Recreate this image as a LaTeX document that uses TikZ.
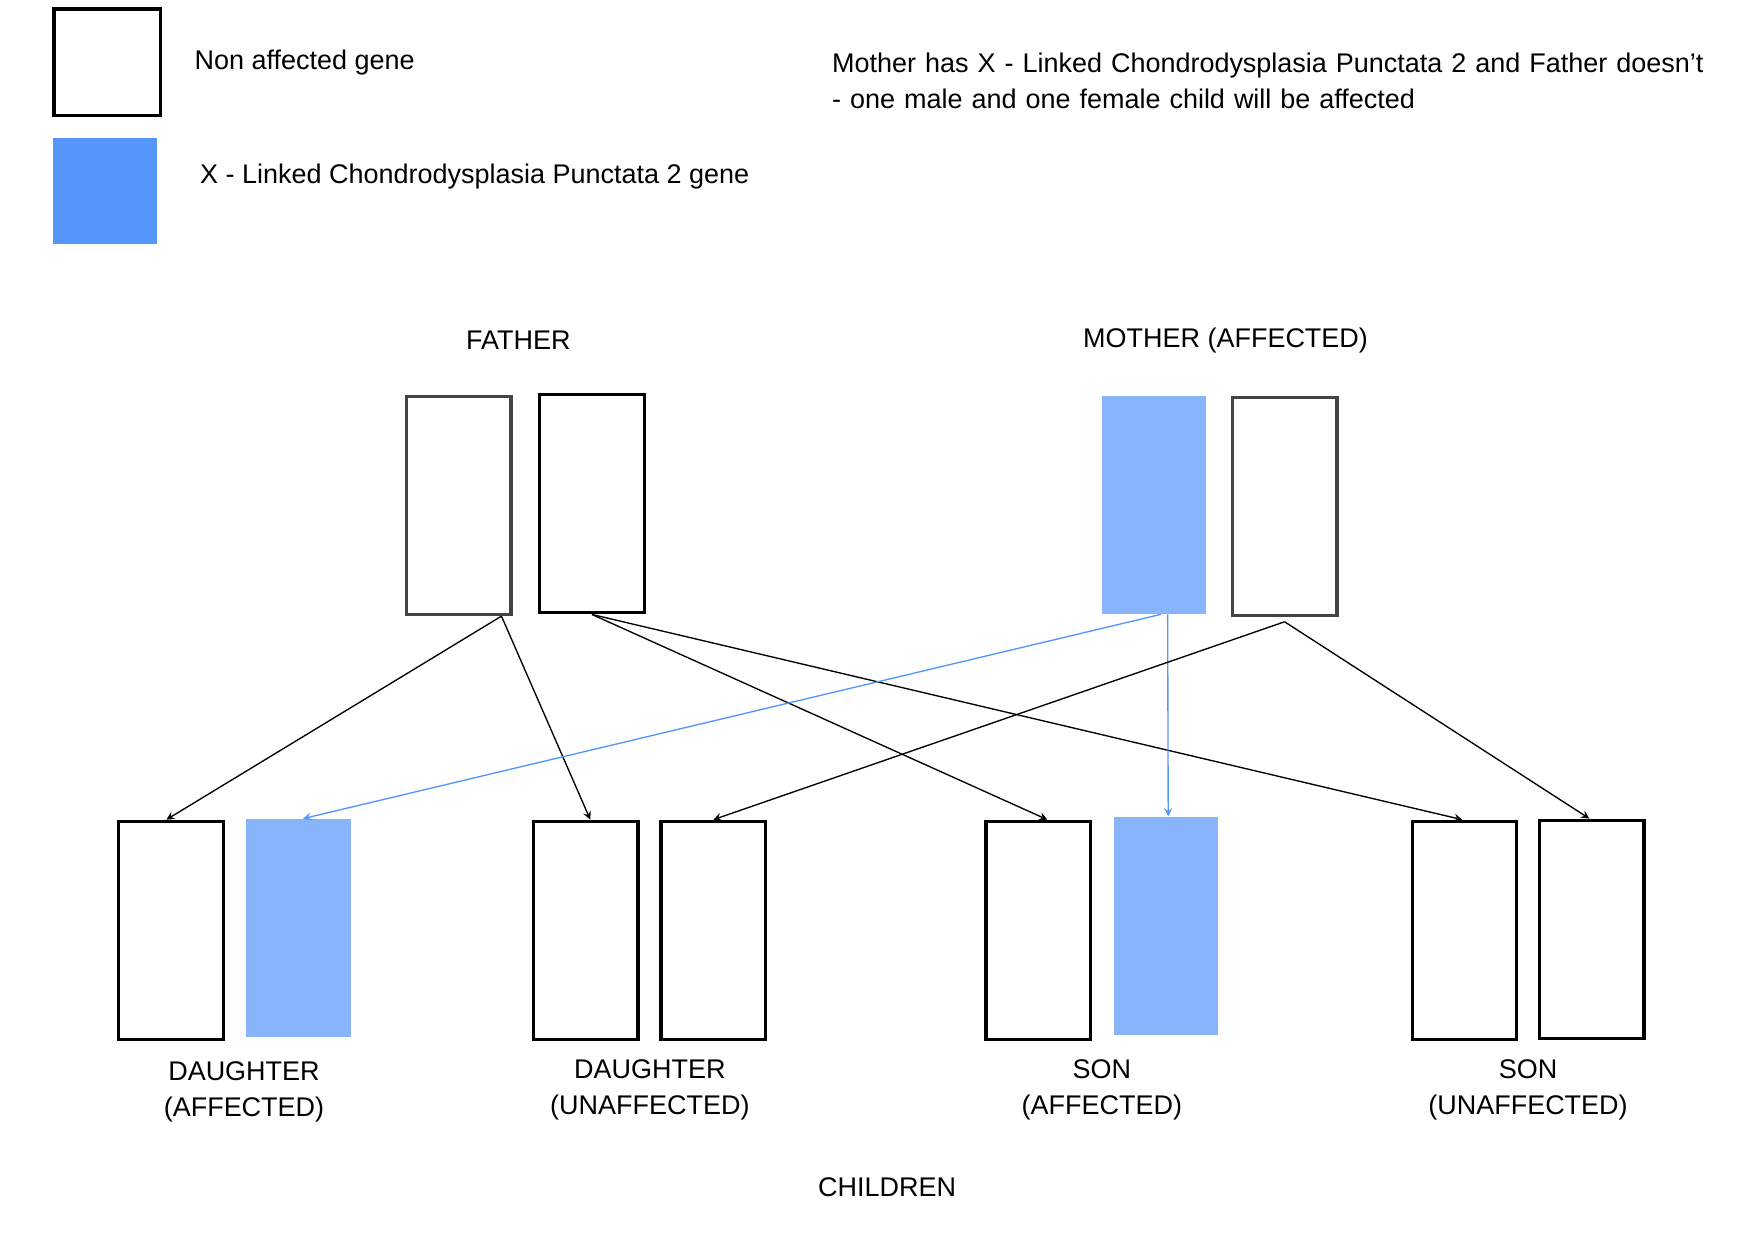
\documentclass[tikz,border=0pt]{standalone}
\usepackage{fontspec}
\setmainfont{Liberation Sans}
\usetikzlibrary{positioning}
\definecolor{geneblue}{HTML}{5596FB}
\definecolor{lightblue}{HTML}{88B4FB}
\definecolor{boxgray}{HTML}{444444}
\tikzset{
  gene/.style={draw=black, line width=1.5pt, minimum width=46.5pt, minimum height=97pt, inner sep=0pt},
  graygene/.style={gene, draw=boxgray},
  bluegene/.style={fill=lightblue, minimum width=46.5pt, minimum height=97pt, inner sep=0pt},
  lbl/.style={font=\fontsize{12}{16}\selectfont, align=center},
  link/.style={-stealth, line width=0.6pt},
}
\begin{document}
\begin{tikzpicture}[x=0.5pt, y=-0.5pt]
  \useasboundingbox (0,0) rectangle (1560,1102);

  % legend
  \node[gene, minimum width=47.5pt, minimum height=47.5pt] (keyplain) at (95.5,55.5) {};
  \node[fill=geneblue, minimum width=46.5pt, minimum height=47pt, inner sep=0pt] (keyblue) at (93.5,170) {};
  \node[lbl, anchor=west] (keyplaintxt) at (166,56) {Non affected gene};
  \node[lbl, anchor=west] (keybluetxt) at (171,157) {X - Linked Chondrodysplasia Punctata 2 gene};
  \node[lbl, anchor=north west, align=left, text width=390pt] (note) at (733,40)
    {Mother has X - Linked Chondrodysplasia Punctata 2 and Father doesn’t\\- one male and one female child will be affected};

  % parents
  \node[lbl] (father) at (461,303) {FATHER};
  \node[lbl] (mother) at (1090,303) {MOTHER (AFFECTED)};
  \node[graygene] (f1) at (408,449.5) {};
  \node[gene] (f2) at (526.5,448) {};
  \node[bluegene] (m1) at (1026.5,449) {};
  \node[graygene] (m2) at (1142.5,450.5) {};

  % children
  \node[gene] (d1a) at (152,827.5) {};
  \node[bluegene] (d1b) at (265.5,825.5) {};
  \node[gene] (d2a) at (521,827.5) {};
  \node[gene] (d2b) at (634.5,827.5) {};
  \node[gene] (s1a) at (923.5,827.5) {};
  \node[bluegene] (s1b) at (1037,823.5) {};
  \node[gene] (s2a) at (1302.5,827.5) {};
  \node[gene] (s2b) at (1415.5,826.5) {};

  \node[lbl] (d1lbl) at (217,971) {DAUGHTER\\(AFFECTED)};
  \node[lbl] (d2lbl) at (578,969) {DAUGHTER\\(UNAFFECTED)};
  \node[lbl] (s1lbl) at (980,969) {SON\\(AFFECTED)};
  \node[lbl] (s2lbl) at (1359,969) {SON\\(UNAFFECTED)};
  \node[lbl] (children) at (789,1056) {CHILDREN};

  % inheritance
  \draw[link] ([xshift=19pt]f1.south) -- ([xshift=-2pt]d1a.north);
  \draw[link] ([xshift=19pt]f1.south) -- ([xshift=2pt]d2a.north);
  \draw[link] (f2.south) -- ([xshift=4pt]s1a.north);
  \draw[link] (f2.south) -- ([xshift=-1pt]s2a.north);
  \draw[link, geneblue] ([xshift=3pt]m1.south) -- ([xshift=2pt]d1b.north);
  \draw[link, geneblue] ([xshift=6pt]m1.south) -- ([xshift=1pt]s1b.north);
  \draw[link] ([yshift=-2pt]m2.south) -- (d2b.north);
  \draw[link] ([yshift=-2pt]m2.south) -- ([xshift=-1pt]s2b.north);
\end{tikzpicture}
\end{document}
